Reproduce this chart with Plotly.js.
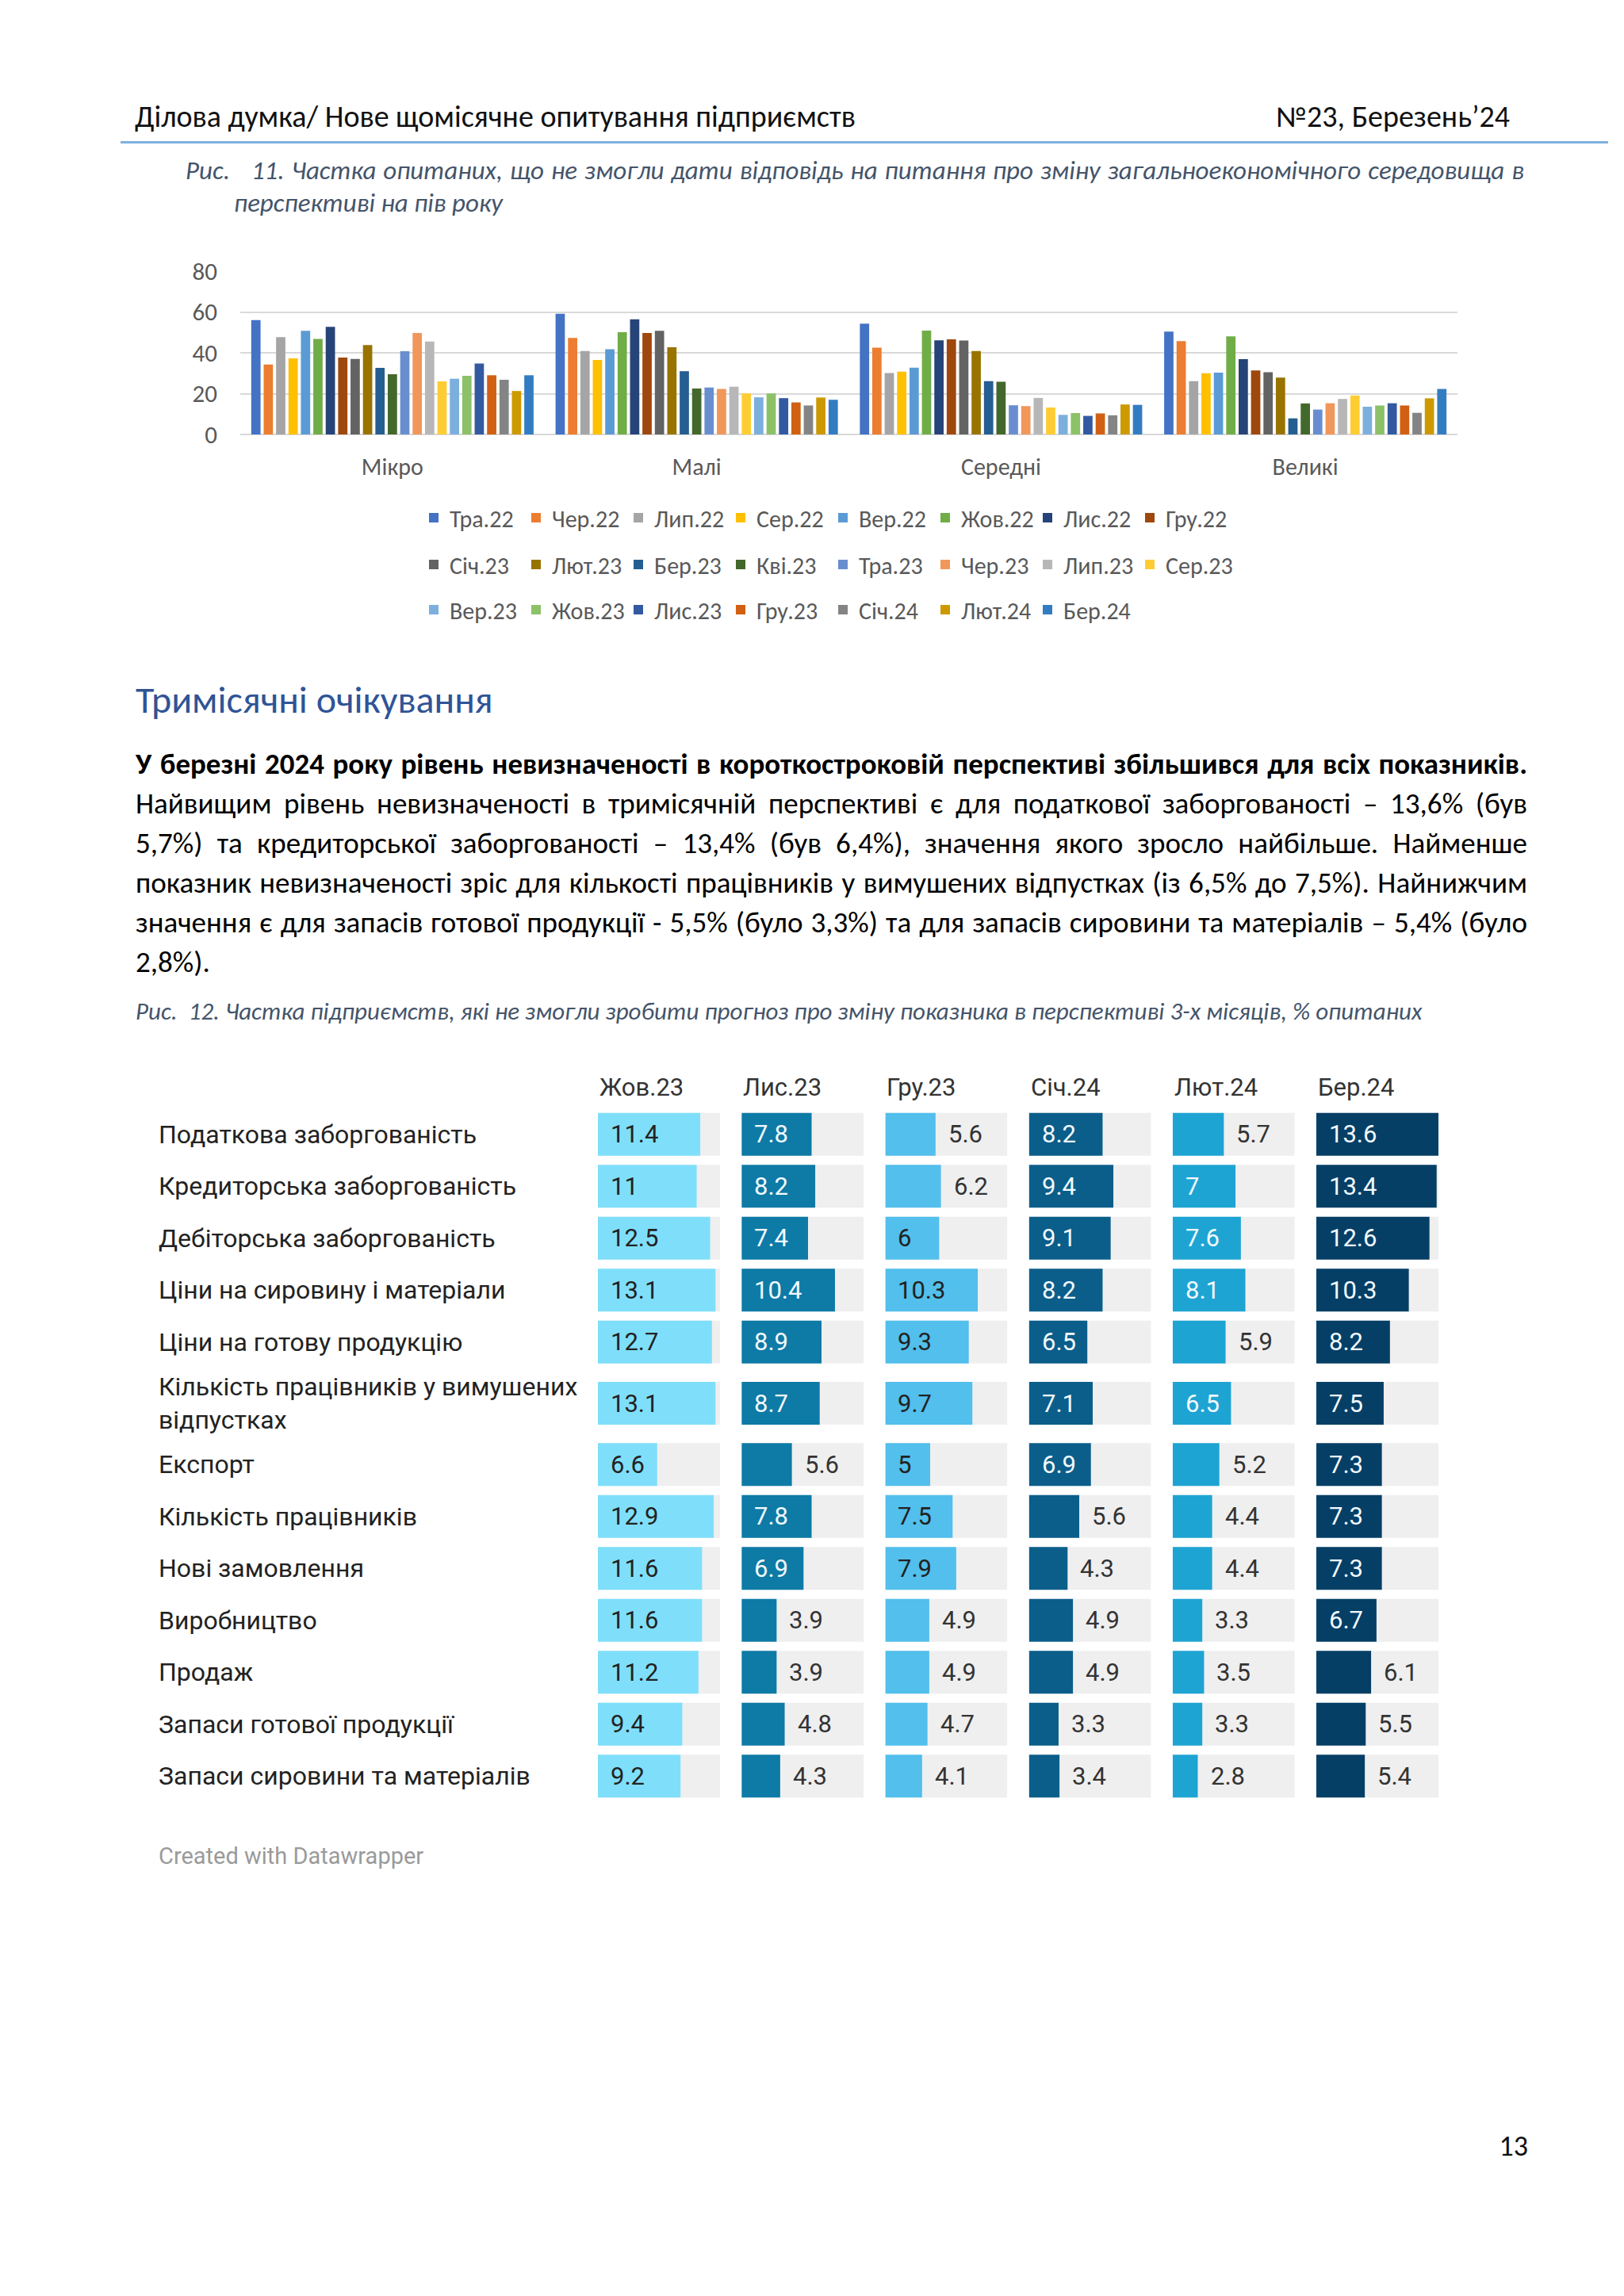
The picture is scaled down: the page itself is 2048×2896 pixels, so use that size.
<!DOCTYPE html>
<html>
<head>
<meta charset="utf-8">
<script src="https://cdn.plot.ly/plotly-3.0.1.min.js"></script>
<style>
  body { margin: 0; background: #ffffff; }
  #page { position: relative; width: 2048px; height: 2896px; overflow: hidden; background: #ffffff; }
  .t { position: absolute; white-space: nowrap; font-family: 'Carlito', 'Lato', sans-serif; color: #111; }
  .cap { font-style: italic; color: #44546A; font-size: 27px; line-height: 40px; }
  .par { font-size: 33px; line-height: 50px; color: #000; }
  #chart1 { position: absolute; left: 0; top: 300px; width: 2048px; height: 520px; }
  #chart2 { position: absolute; left: 0; top: 1330px; width: 2048px; height: 1060px; }
</style>
</head>
<body>
<div id="page">
  <div class="t" style="left:170px;top:122px;line-height:50px;font-size:38px;">Ділова думка/ Нове щомісячне опитування підприємств</div>
  <div class="t" style="right:144px;top:122px;line-height:50px;font-size:38px;">№23, Березень’24</div>
  <div style="position:absolute;left:152px;top:178px;width:1876px;height:3px;background:#7EB1DE;"></div>

  <div class="t cap fit" data-g="cap1" data-w="1688" style="left:234px;top:195px;">Рис.&nbsp;&nbsp; 11. Частка опитаних, що не змогли дати відповідь на питання про зміну загальноекономічного середовища в</div>
  <div class="t cap" data-follow="cap1" style="left:295px;top:236px;">перспективі на пів року</div>

  <div class="t" style="left:171px;top:858px;line-height:50px;font-size:48px;color:#2F5496;">Тримісячні очікування</div>

  <div class="t par fit" data-g="bold" data-w="1755" style="left:171px;top:939px;font-weight:bold;">У березні 2024 року рівень невизначеності в короткостроковій перспективі збільшився для всіх показників.</div>
  <div class="t par fit" data-g="par" data-w="1755" style="left:171px;top:989px;">Найвищим рівень невизначеності в тримісячній перспективі є для податкової заборгованості – 13,6% (був</div>
  <div class="t par fit" data-g="par" data-w="1755" style="left:171px;top:1039px;">5,7%) та кредиторської заборгованості – 13,4% (був 6,4%), значення якого зросло найбільше. Найменше</div>
  <div class="t par fit" data-g="par" data-w="1755" style="left:171px;top:1089px;">показник невизначеності зріс для кількості працівників у вимушених відпустках (із 6,5% до 7,5%). Найнижчим</div>
  <div class="t par fit" data-g="par" data-w="1755" style="left:171px;top:1139px;">значення є для запасів готової продукції - 5,5% (було 3,3%) та для запасів сировини та матеріалів – 5,4% (було</div>
  <div class="t par" data-follow="par" style="left:171px;top:1189px;">2,8%).</div>

  <div class="t cap" style="left:171px;top:1255px;font-size:31px;">Рис.&nbsp; 12. Частка підприємств, які не змогли зробити прогноз про зміну показника в перспективі 3-х місяців, % опитаних</div>

  <div class="t" style="right:121px;top:2682px;line-height:50px;font-size:36px;color:#111;">13</div>

  <div id="chart1"></div>
  <div id="chart2"></div>
</div>

<script>
// ---------- Figure 11 data ----------
const sizeCategories = ['Мікро', 'Малі', 'Середні', 'Великі'];
const months = ['Тра.22','Чер.22','Лип.22','Сер.22','Вер.22','Жов.22','Лис.22','Гру.22',
                'Січ.23','Лют.23','Бер.23','Кві.23','Тра.23','Чер.23','Лип.23','Сер.23',
                'Вер.23','Жов.23','Лис.23','Гру.23','Січ.24','Лют.24','Бер.24'];
const micro  = [56.0,34.3,47.7,37.3,50.8,46.8,52.7,37.7,37.0,43.8,32.6,29.5,40.8,49.7,45.5,26.0,27.3,28.7,34.8,29.0,26.8,21.3,29.0];
const small  = [59.1,47.3,40.9,36.5,41.7,50.1,56.4,49.7,50.8,42.7,31.0,22.5,23.0,22.3,23.4,20.1,18.2,20.1,17.8,15.7,14.2,18.1,17.0];
const medium = [54.3,42.5,30.1,30.8,32.7,50.9,46.1,46.6,46.0,40.9,26.1,25.8,14.3,13.9,17.9,13.2,9.6,10.5,9.1,10.3,9.4,14.7,14.5];
const large  = [50.4,45.7,26.1,30.0,30.3,48.1,36.9,31.4,30.5,27.9,7.9,15.2,12.2,15.3,17.4,19.1,13.6,14.2,15.3,14.2,10.6,17.7,22.3];
const yTicks = [0, 20, 40, 60, 80];

const monthColors = ['#4472C4','#ED7D31','#A5A5A5','#FFC000','#5B9BD5','#70AD47','#264478','#9E480E',
                     '#636363','#997300','#255E91','#43682B','#698ED0','#F1975A','#B7B7B7','#FFCD33',
                     '#7CAFDD','#8CC168','#335AA1','#D26012','#848484','#CC9A00','#327DC2'];

// ---------- Figure 12 data ----------
const indicators = ['Податкова заборгованість','Кредиторська заборгованість','Дебіторська заборгованість',
  'Ціни на сировину і матеріали','Ціни на готову продукцію','Кількість працівників у вимушених<br>відпустках',
  'Експорт','Кількість працівників','Нові замовлення','Виробництво','Продаж','Запаси готової продукції',
  'Запаси сировини та матеріалів'];
const periods = ['Жов.23','Лис.23','Гру.23','Січ.24','Лют.24','Бер.24'];
const oct23 = [11.4, 11, 12.5, 13.1, 12.7, 13.1, 6.6, 12.9, 11.6, 11.6, 11.2, 9.4, 9.2];
const nov23 = [7.8, 8.2, 7.4, 10.4, 8.9, 8.7, 5.6, 7.8, 6.9, 3.9, 3.9, 4.8, 4.3];
const dec23 = [5.6, 6.2, 6, 10.3, 9.3, 9.7, 5, 7.5, 7.9, 4.9, 4.9, 4.7, 4.1];
const jan24 = [8.2, 9.4, 9.1, 8.2, 6.5, 7.1, 6.9, 5.6, 4.3, 4.9, 4.9, 3.3, 3.4];
const feb24 = [5.7, 7, 7.6, 8.1, 5.9, 6.5, 5.2, 4.4, 4.4, 3.3, 3.5, 3.3, 2.8];
const mar24 = [13.6, 13.4, 12.6, 10.3, 8.2, 7.5, 7.3, 7.3, 7.3, 6.7, 6.1, 5.5, 5.4];

const periodColors = ['#7FDFFA','#0E7AA6','#52BFEC','#0B5E8A','#1EA4D3','#063F66'];
const periodTextColors = ['#222222','#F2FAFF','#222222','#F2FAFF','#F2FAFF','#F2FAFF'];

// fit justified lines: common font size per group, then word spacing per line
(function () {
  const groups = {};
  document.querySelectorAll('.fit').forEach(function (el) {
    const g = el.dataset.g;
    (groups[g] = groups[g] || []).push(el);
  });
  Object.keys(groups).forEach(function (g) {
    const list = groups[g];
    let scale = Infinity;
    list.forEach(function (el) {
      el.style.whiteSpace = 'nowrap';
      el.style.display = 'inline-block';
      const w = el.getBoundingClientRect().width;
      scale = Math.min(scale, +el.dataset.w / w);
    });
    const fs = parseFloat(getComputedStyle(list[0]).fontSize) * scale * 0.985;
    list.forEach(function (el) { el.style.fontSize = fs + 'px'; });
    document.querySelectorAll('[data-follow="' + g + '"]').forEach(function (el) { el.style.fontSize = fs + 'px'; });
    list.forEach(function (el) {
      const w = el.getBoundingClientRect().width;
      const n = (el.textContent.match(/[ \u00A0]/g) || []).length;
      if (n > 0) el.style.wordSpacing = ((+el.dataset.w - w) / n) + 'px';
    });
  });
})();

// ---------- Chart 1 ----------
(function () {
  const F1 = 'Carlito, Lato, sans-serif';
  const traces = months.map(function (m, i) {
    const row = Math.floor(i / 8);
    return {
      type: 'bar', name: m,
      x: sizeCategories,
      y: [micro[i], small[i], medium[i], large[i]],
      marker: { color: monthColors[i] },
      legend: row === 0 ? 'legend' : (row === 1 ? 'legend2' : 'legend3'),
      hoverinfo: 'skip'
    };
  });
  const plotH = 206;
  function leg(center) {
    return {
      orientation: 'h', x: (527 - 303) / 1535, xanchor: 'left', y: (548 - center) / plotH, yanchor: 'middle',
      font: { family: F1, size: 30, color: '#595959' },
      entrywidth: 84, entrywidthmode: 'pixels', itemwidth: 30,
      bgcolor: 'rgba(0,0,0,0)', borderwidth: 0, traceorder: 'normal'
    };
  }
  const layout = {
    width: 2048, height: 520,
    margin: { l: 303, r: 210, t: 42, b: 272, pad: 0 },
    paper_bgcolor: 'rgba(0,0,0,0)', plot_bgcolor: 'rgba(0,0,0,0)',
    barmode: 'group', bargap: 0.062, bargroupgap: 0.25,
    font: { family: F1, color: '#595959' },
    xaxis: { type: 'category', showgrid: false, zeroline: false, showline: false, ticks: '',
             tickfont: { family: F1, size: 30, color: '#595959' }, ticklabelstandoff: 20 },
    yaxis: { range: [0, 80], tickvals: yTicks, showgrid: true, gridcolor: '#D9D9D9', gridwidth: 2,
             zeroline: true, zerolinecolor: '#D9D9D9', zerolinewidth: 2, showline: false, ticks: '',
             tickfont: { family: F1, size: 31, color: '#595959' }, ticklabelstandoff: 28 },
    showlegend: true,
    legend: leg(653), legend2: leg(712), legend3: leg(769)
  };
  Plotly.newPlot('chart1', traces, layout, { staticPlot: true, displayModeBar: false });
})();

// ---------- Chart 2 ----------
(function () {
  const F2 = 'Roboto, sans-serif';
  const FS = 31;
  const colValues = [oct23, nov23, dec23, jan24, feb24, mar24];
  const maxVal = Math.max.apply(null, colValues.map(function (c) { return Math.max.apply(null, c); }));
  // row positions (extra room around two-line labels)
  const pos = [];
  let p = 0;
  indicators.forEach(function (lab, r) {
    if (r > 0) {
      const extra = (lab.indexOf('<br>') >= 0 || indicators[r - 1].indexOf('<br>') >= 0) ? 0.18 : 0;
      p += 1 + extra;
    }
    pos.push(p);
  });
  const last = pos[pos.length - 1];
  const plotL = 198, plotR = 1814, plotW = plotR - plotL;
  const colStart0 = 754, colPitch = 181.2, colW = 154;
  const pxPerUnit = colW / maxVal;
  const plotTop = 1398 - 1330, plotH = 875;
  const H = 1060;

  const traces = [];
  const annotations = [];
  const layout = {
    width: 2048, height: H,
    margin: { l: plotL, r: 2048 - plotR, t: plotTop, b: H - plotTop - plotH, pad: 0 },
    paper_bgcolor: 'rgba(0,0,0,0)', plot_bgcolor: 'rgba(0,0,0,0)',
    barmode: 'overlay', showlegend: false,
    font: { family: F2, color: '#333333' },
    yaxis: { range: [last + 0.5, -0.5], visible: false, fixedrange: true }
  };

  function textW(s) {
    let w = 0;
    for (const ch of s) w += (ch === '.' ? 0.26 : 0.562) * FS;
    return w;
  }
  const PAD = 14;

  periods.forEach(function (per, i) {
    const ax = i === 0 ? 'x' : 'x' + (i + 1);
    const axKey = i === 0 ? 'xaxis' : 'xaxis' + (i + 1);
    const d0 = (colStart0 + i * colPitch - plotL) / plotW;
    const d1 = d0 + colW / plotW;
    layout[axKey] = { domain: [d0, d1], range: [0, maxVal], visible: false, anchor: 'y', fixedrange: true };
    const vals = colValues[i];
    traces.push({
      type: 'bar', orientation: 'h', xaxis: ax, yaxis: 'y',
      x: vals.map(function () { return maxVal; }), y: pos, width: 0.826,
      marker: { color: '#EFEFEF' }, hoverinfo: 'skip'
    });
    traces.push({
      type: 'bar', orientation: 'h', xaxis: ax, yaxis: 'y',
      x: vals, y: pos, width: 0.826,
      marker: { color: periodColors[i] }, hoverinfo: 'skip'
    });
    annotations.push({
      xref: ax + ' domain', x: 0, xanchor: 'left', yref: 'paper', y: 1 + 26 / plotH, yanchor: 'middle',
      text: per, showarrow: false, font: { family: F2, size: FS, color: '#333333' }
    });
    vals.forEach(function (v, r) {
      const s = String(v);
      const inside = v * pxPerUnit >= textW(s) + 2 * PAD;
      annotations.push({
        xref: ax, x: inside ? 0 : v, xshift: PAD, xanchor: 'left',
        yref: 'y', y: pos[r], yanchor: 'middle',
        text: s, showarrow: false,
        font: { family: F2, size: FS, color: inside ? periodTextColors[i] : '#333333' }
      });
    });
  });

  indicators.forEach(function (lab, r) {
    annotations.push({
      xref: 'paper', x: 0, xanchor: 'left', yref: 'y', y: pos[r], yanchor: 'middle', align: 'left',
      text: lab, showarrow: false, font: { family: F2, size: 32, color: '#222222' }
    });
  });
  annotations.push({
    xref: 'paper', x: 0, xanchor: 'left', yref: 'paper', y: -(2341 - 2273) / plotH, yanchor: 'middle',
    text: 'Created with Datawrapper', showarrow: false, font: { family: F2, size: 29, color: '#9A9A9A' }
  });
  layout.annotations = annotations;
  Plotly.newPlot('chart2', traces, layout, { staticPlot: true, displayModeBar: false });
})();
</script>
</body>
</html>
